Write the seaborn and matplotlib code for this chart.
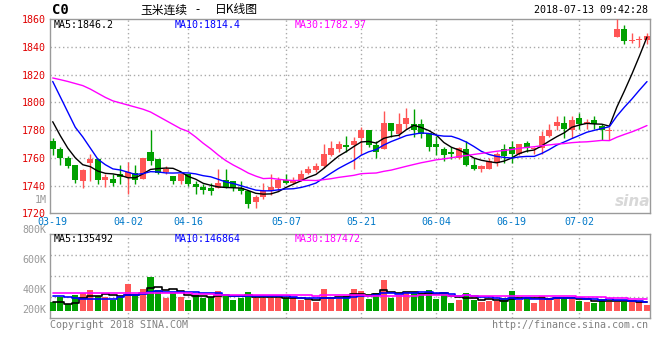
import numpy as np
import pandas as pd
import matplotlib
matplotlib.use("Agg")
import matplotlib.pyplot as plt
import seaborn as sns

# ---------------- data ----------------
holidays = ["2018-04-05", "2018-04-06", "2018-04-30", "2018-05-01", "2018-06-18"]
trade_days = pd.bdate_range("2018-03-19", "2018-07-13")
trade_days = trade_days[~trade_days.isin(pd.to_datetime(holidays))]

opens = [1772, 1766, 1760, 1755, 1743, 1756, 1759, 1744, 1745, 1748,
         1746, 1749, 1745, 1764, 1759, 1750, 1747, 1743, 1748, 1741,
         1739, 1738, 1738, 1744, 1743, 1738, 1736, 1728, 1732, 1736,
         1738, 1744, 1742, 1744, 1749, 1751, 1754, 1762, 1766, 1769,
         1769, 1774, 1780, 1769, 1766, 1785, 1777, 1784, 1784, 1784,
         1778, 1770, 1766, 1764, 1760, 1766, 1755, 1752, 1752, 1756,
         1766, 1768, 1763, 1771, 1766, 1767, 1776, 1783, 1785, 1780,
         1789, 1784, 1787, 1783, 1779, 1847, 1853, 1844, 1845, 1845]
highs = [1774, 1768, 1761, 1755, 1752, 1763, 1760, 1748, 1748, 1755,
         1757, 1755, 1760, 1780, 1759, 1754, 1747, 1749, 1748, 1743,
         1741, 1742, 1752, 1752, 1743, 1743, 1737, 1733, 1742, 1748,
         1746, 1748, 1746, 1751, 1754, 1756, 1770, 1772, 1772, 1776,
         1775, 1782, 1780, 1772, 1794, 1785, 1792, 1796, 1795, 1788,
         1778, 1776, 1768, 1768, 1768, 1772, 1760, 1755, 1760, 1764,
         1770, 1772, 1770, 1772, 1768, 1779, 1784, 1790, 1790, 1790,
         1792, 1788, 1790, 1784, 1782, 1860, 1856, 1850, 1848, 1850]
lows = [1762, 1755, 1753, 1742, 1738, 1743, 1741, 1739, 1740, 1741,
        1734, 1741, 1745, 1755, 1748, 1748, 1741, 1741, 1740, 1734,
        1734, 1733, 1738, 1738, 1736, 1734, 1724, 1724, 1730, 1733,
        1736, 1741, 1741, 1743, 1748, 1750, 1753, 1761, 1764, 1764,
        1752, 1763, 1768, 1760, 1766, 1775, 1775, 1781, 1775, 1774,
        1765, 1762, 1758, 1759, 1759, 1754, 1751, 1750, 1752, 1754,
        1756, 1756, 1762, 1764, 1763, 1763, 1775, 1780, 1774, 1774,
        1781, 1781, 1781, 1773, 1773, 1847, 1842, 1843, 1840, 1842]
closes = [1766, 1760, 1754, 1744, 1751, 1759, 1744, 1746, 1742, 1746,
          1750, 1744, 1760, 1758, 1749, 1752, 1743, 1748, 1741, 1739,
          1737, 1736, 1742, 1739, 1738, 1736, 1727, 1732, 1736, 1739,
          1744, 1742, 1744, 1748, 1752, 1754, 1763, 1767, 1770, 1768,
          1772, 1780, 1769, 1764, 1785, 1779, 1784, 1789, 1780, 1777,
          1768, 1768, 1762, 1763, 1767, 1755, 1752, 1754, 1758, 1763,
          1761, 1763, 1770, 1767, 1767, 1776, 1780, 1786, 1781, 1787,
          1784, 1786, 1784, 1780, 1780, 1853, 1844, 1845, 1845, 1848]
volumes = [143000, 236000, 116000, 264000, 292000, 347000, 248000, 236000, 182000, 248000,
           446000, 248000, 363000, 567000, 347000, 220000, 319000, 236000, 182000, 264000,
           209000, 236000, 330000, 264000, 182000, 209000, 308000, 220000, 220000, 220000,
           220000, 220000, 209000, 182000, 182000, 143000, 363000, 236000, 209000, 242000,
           363000, 330000, 198000, 292000, 512000, 220000, 264000, 292000, 308000, 292000,
           347000, 198000, 308000, 127000, 182000, 292000, 182000, 143000, 165000, 165000,
           209000, 330000, 182000, 220000, 127000, 248000, 220000, 220000, 220000, 198000,
           165000, 154000, 127000, 198000, 154000, 154000, 154000, 154000, 143000, 99000]

# moving-average values before a full window exists
ma5_head = [1786, 1776, 1767, 1760]
ma10_head = [1815, 1804, 1793, 1782, 1775, 1767, 1759, 1755, 1752]
ma30_head = [1817.5, 1816.3, 1815, 1813.5, 1812, 1809.5, 1806.5, 1803.5, 1801, 1799.5,
             1798, 1796.5, 1795, 1793, 1790, 1787, 1784, 1781, 1779, 1775,
             1770.5, 1766.5, 1762, 1758, 1754.8, 1752, 1749, 1746.8, 1745]
vol_ma5_head = [143000, 143000, 120000, 130000]
vol_ma10_head = [253000, 240000, 236000, 210000, 200000, 200000, 200000, 200000, 205000]
vol_ma30_head = [302000, 302000, 291000, 291000, 291000, 291000, 291000, 291000, 291000, 291000,
                 291000, 291000, 291000, 291000, 291000, 291000, 291000, 291000, 291000, 285000,
                 280000, 275000, 272000, 270000, 268000, 266000, 265000, 264000, 264000]

price_ticks = [1720, 1740, 1760, 1780, 1800, 1820, 1840, 1860]
vol_labels = ["800K", "600K", "400K", "200K"]
date_ticks = ["03-19", "04-02", "04-16", "05-07", "05-21", "06-04", "06-19", "07-02"]
ma_texts = ["MA5:1846.2", "MA10:1814.4", "MA30:1782.97"]
vol_ma_texts = ["MA5:135492", "MA10:146864", "MA30:187472"]
title_cn = ["玉米连续", "-", "日K线图"]
symbol = "C0"
stamp = "2018-07-13 09:42:28"

# ---------------- frame ----------------
df = pd.DataFrame({"date": trade_days, "open": opens, "high": highs, "low": lows,
                   "close": closes, "vol": volumes})
df["x"] = np.arange(len(df))


def moving(series, n, head):
    m = series.rolling(n).mean()
    m.iloc[:n - 1] = head
    return m


df["ma5"] = moving(df["close"], 5, ma5_head)
df["ma10"] = moving(df["close"], 10, ma10_head)
df["ma30"] = moving(df["close"], 30, ma30_head)
df["vma5"] = moving(df["vol"], 5, vol_ma5_head)
df["vma10"] = moving(df["vol"], 10, vol_ma10_head)
df["vma30"] = moving(df["vol"], 30, vol_ma30_head)
tick_pos = [df.index[df["date"] == pd.Timestamp("2018-" + t)][0] for t in date_ticks]

sns.set_style("white")
plt.rcParams["font.family"] = ["DejaVu Sans Mono", "DejaVu Sans"]

RED = "#FF5555"
GREEN = "#00A000"
GRID = "#AAAAAA"
FRAME = "#9A9A9A"
MA_COLORS = ["black", "#0000FF", "#FF00FF"]

W, H = 660, 360
fig = plt.figure(figsize=(6.6, 3.6), dpi=100)
fig.patch.set_facecolor("white")

ax1 = fig.add_axes([50 / W, 1 - 213.3 / H, 600 / W, (213.3 - 19) / H])
ax2 = fig.add_axes([50 / W, 1 - 318 / H, 600 / W, (318 - 234.3) / H])

up = df["close"] >= df["open"]
cols = np.where(up, RED, GREEN)

# --- price panel ---
ax1.vlines(df["x"], df["low"], df["high"], colors=cols, lw=1, zorder=3)
body = np.maximum((df["close"] - df["open"]).abs(), 0.4)
ax1.bar(df["x"], body, bottom=np.minimum(df["open"], df["close"]), width=0.8,
        color=cols, linewidth=0, zorder=4)
for col, c in zip(["ma5", "ma10", "ma30"], MA_COLORS):
    sns.lineplot(data=df, x="x", y=col, ax=ax1, color=c, lw=1, zorder=5, legend=False)

ax1.set_xlim(-0.36, 79.4)
ax1.set_ylim(price_ticks[0], price_ticks[-1])
ax1.set_yticks(price_ticks)
ax1.set_yticklabels([str(t) for t in price_ticks], color="#E00000", fontsize=7.2)
ax1.set_xticks(tick_pos)
ax1.set_xticklabels(date_ticks, color="#0078C8", fontsize=7.2)
ax1.tick_params(length=0, pad=2.5)
ax1.tick_params(axis="y", pad=3.2)
ax1.set_xlabel("")
ax1.set_ylabel("")
for yv in price_ticks[1:-1]:
    ax1.axhline(yv, color=GRID, lw=1, ls=(0, (1, 2)), zorder=1)
for xv in tick_pos[1:]:
    ax1.axvline(xv, color=GRID, lw=1, ls=(0, (1, 2)), zorder=1)
for s in ax1.spines.values():
    s.set_color(FRAME)
    s.set_linewidth(1)

# --- volume panel ---
ax2.bar(df["x"], df["vol"], width=0.8, color=cols, linewidth=0, zorder=3)
for col, c in zip(["vma5", "vma10", "vma30"], MA_COLORS):
    sns.lineplot(data=df, x="x", y=col, ax=ax2, color=c, lw=1.2, zorder=5,
                 drawstyle="steps-mid", legend=False)
ax2.set_xlim(-0.36, 79.4)
ax2.set_ylim(-115500, 1265600)
ax2.set_xticks([])
ax2.set_yticks([])
ax2.set_xlabel("")
ax2.set_ylabel("")
lo, hi = ax2.get_ylim()
for yv in np.linspace(lo, hi, 5)[1:4]:
    ax2.axhline(yv, color=GRID, lw=1, ls=(0, (1, 2)), zorder=1)
for xv in tick_pos[1:]:
    ax2.axvline(xv, color=GRID, lw=1, ls=(0, (1, 2)), zorder=1)
for s in ax2.spines.values():
    s.set_color(FRAME)
    s.set_linewidth(1)

# --- texts ---
def ftxt(x, y, s, **kw):
    fig.text(x / W, 1 - y / H, s, va="center", **kw)

ftxt(52, 10, symbol, fontsize=10, fontweight="bold", color="black")
cjk = ["Noto Sans CJK SC", "DejaVu Sans"]
ftxt(140, 10, title_cn[0], fontsize=8.5, family=cjk, color="black")
ftxt(198, 10, title_cn[1], fontsize=8.5, family=cjk, color="black", ha="center")
ftxt(215, 10, title_cn[2], fontsize=8.5, family=cjk, color="black")
ftxt(648, 10, stamp, fontsize=7.2, color="black", ha="right")

for xs, t, c in zip([54, 175, 295], ma_texts, MA_COLORS):
    ftxt(xs, 24.5, t, fontsize=7.2, color=c)
for xs, t, c in zip([54, 175, 295], vol_ma_texts, MA_COLORS):
    ftxt(xs, 239.5, t, fontsize=7.2, color=c)

ftxt(46.5, 200, "1M", fontsize=7.2, color="#999999", ha="right")
for yy, t in zip([230, 260, 290, 310], vol_labels):
    ftxt(46.5, yy, t, fontsize=7.2, color="#999999", ha="right")

ftxt(50, 325, "Copyright 2018 SINA.COM", fontsize=7.2, color="#808080")
ftxt(648, 325, "http://finance.sina.com.cn", fontsize=7.2, color="#808080", ha="right")
ftxt(633, 201, "sina", fontsize=11, color="#D8D8D8", ha="center",
     fontweight="bold", fontstyle="italic", family=["DejaVu Sans"])

fig.savefig("out.png", dpi=100, facecolor="white")
